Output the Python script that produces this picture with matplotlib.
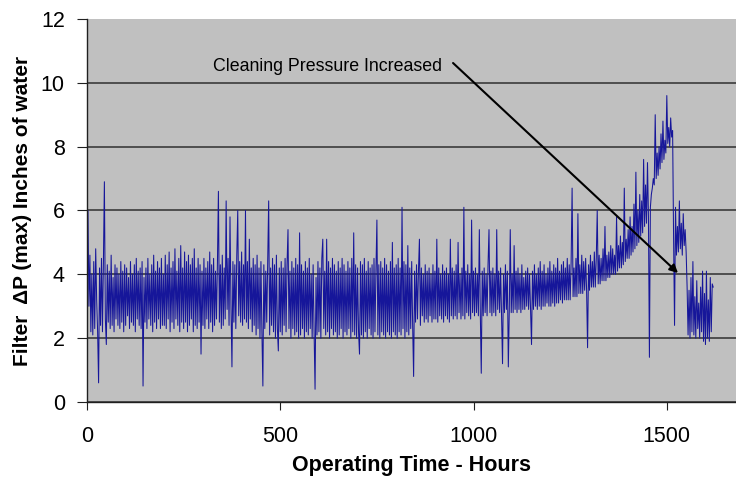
import matplotlib
matplotlib.use("Agg")
import matplotlib.pyplot as plt
import numpy as np

plt.rcParams['font.family'] = ['Liberation Sans', 'DejaVu Sans']

# filter dP (max), read every 2.5 operating hours
step_hours = 2.5
dp_max = [
    3.5, 6.0, 3.0, 4.6, 2.2, 4.0, 2.1, 4.4, 2.3, 4.8, 3.2, 2.2, 0.6, 4.2, 2.4, 4.5, 2.2, 4.4, 6.9, 2.6,
    1.8, 4.3, 2.5, 4.1, 2.3, 4.6, 2.4, 3.9, 2.2, 4.3, 2.6, 4.2, 2.4, 4.0, 2.3, 4.4, 2.5, 4.1, 2.2, 4.3,
    2.4, 4.2, 2.7, 3.9, 2.3, 4.4, 2.5, 4.0, 2.4, 4.3, 2.2, 4.5, 2.6, 4.1, 2.4, 4.2, 2.3, 4.4, 0.5, 3.9,
    2.5, 4.2, 2.3, 4.5, 2.6, 4.0, 2.4, 4.3, 2.2, 4.6, 2.5, 4.1, 2.3, 4.4, 2.6, 4.2, 2.3, 4.5, 2.4, 4.0,
    2.4, 4.6, 2.3, 4.3, 2.6, 4.7, 2.2, 4.2, 2.5, 4.4, 2.3, 4.8, 2.6, 4.1, 2.4, 4.5, 2.2, 4.9, 2.5, 4.2,
    2.3, 4.7, 2.5, 4.4, 2.2, 4.6, 2.4, 4.3, 2.6, 4.5, 2.2, 4.8, 2.4, 4.2, 2.3, 4.5, 2.5, 4.3, 1.5, 4.1,
    2.4, 4.5, 2.3, 4.2, 2.6, 4.4, 2.3, 4.7, 2.5, 4.3, 2.2, 4.5, 2.4, 4.1, 2.6, 4.4, 6.6, 2.5, 4.3, 2.3,
    4.6, 2.4, 4.2, 2.6, 6.3, 2.9, 4.5, 2.4, 5.8, 3.0, 1.1, 4.4, 2.5, 4.3, 2.3, 4.6, 6.0, 2.7, 4.4, 2.5,
    4.7, 2.4, 4.3, 2.6, 6.0, 2.5, 4.4, 2.3, 5.1, 2.6, 4.2, 2.2, 4.5, 2.4, 4.3, 2.1, 4.6, 2.3, 4.2, 2.0,
    4.4, 2.2, 0.5, 4.3, 2.3, 4.1, 2.5, 4.4, 6.3, 2.1, 4.2, 2.4, 4.5, 2.2, 4.3, 2.0, 4.6, 2.3, 1.6, 4.2,
    2.2, 4.4, 2.1, 4.2, 2.4, 4.5, 2.2, 4.3, 5.4, 2.3, 4.1, 2.0, 4.4, 2.3, 4.2, 2.1, 4.5, 2.2, 4.3, 2.0,
    5.3, 2.1, 4.3, 2.3, 4.1, 2.0, 4.4, 2.2, 4.2, 2.1, 4.5, 2.3, 4.0, 2.0, 4.3, 2.2, 0.4, 3.9, 2.1, 4.4,
    2.2, 4.2, 2.0, 4.5, 5.1, 2.3, 4.1, 2.1, 5.1, 2.2, 4.4, 2.0, 4.2, 2.3, 4.5, 2.1, 4.3, 2.2, 4.1, 2.0,
    4.4, 2.1, 4.2, 2.3, 4.5, 2.0, 4.3, 2.2, 4.1, 2.1, 4.4, 2.3, 4.2, 2.0, 4.5, 2.2, 5.3, 2.1, 4.3, 2.0,
    4.2, 2.2, 1.5, 4.4, 2.1, 4.3, 2.0, 4.5, 2.2, 4.1, 2.0, 4.4, 2.3, 4.2, 2.1, 4.3, 2.0, 4.5, 2.2, 4.1,
    5.7, 2.1, 4.3, 2.0, 4.4, 2.2, 4.2, 2.1, 4.5, 2.0, 4.3, 2.2, 4.1, 2.1, 4.4, 2.0, 5.0, 2.2, 4.2, 2.1,
    4.3, 2.0, 4.5, 2.2, 4.2, 2.1, 6.1, 2.3, 4.4, 2.0, 4.3, 2.2, 4.9, 2.1, 4.2, 2.3, 4.4, 2.4, 0.8, 4.1,
    2.5, 4.3, 2.6, 4.1, 5.1, 2.4, 4.2, 2.7, 4.0, 2.5, 4.3, 2.6, 4.1, 2.5, 4.2, 2.7, 4.0, 2.5, 4.3, 2.6,
    4.1, 2.6, 5.1, 2.5, 4.2, 2.7, 4.0, 2.6, 4.3, 2.5, 4.1, 2.7, 4.2, 2.6, 4.0, 2.5, 5.1, 2.7, 4.2, 2.6,
    4.1, 2.7, 4.3, 2.6, 5.0, 2.8, 4.0, 2.6, 4.2, 2.7, 6.1, 2.6, 4.1, 2.8, 4.3, 2.7, 4.0, 2.6, 5.7, 2.8,
    4.1, 2.7, 4.2, 2.8, 4.0, 2.7, 5.4, 2.8, 0.9, 4.1, 2.7, 4.2, 2.8, 4.0, 2.7, 4.3, 5.4, 2.8, 4.1, 2.7,
    4.2, 2.8, 4.0, 2.7, 5.4, 2.9, 4.1, 2.8, 4.2, 2.7, 1.2, 4.0, 2.8, 4.3, 2.9, 4.1, 1.1, 2.9, 5.4, 2.8,
    4.0, 2.8, 4.9, 2.9, 4.1, 2.8, 4.2, 2.9, 4.0, 2.8, 4.3, 2.9, 3.9, 2.9, 4.1, 3.0, 4.2, 2.9, 4.0, 2.9,
    1.8, 4.1, 2.9, 4.3, 3.0, 4.0, 2.9, 4.2, 3.0, 4.4, 2.9, 4.1, 3.0, 4.3, 3.0, 4.0, 3.1, 4.2, 3.0, 4.4,
    3.0, 4.1, 3.1, 4.3, 3.0, 4.2, 3.1, 4.5, 3.1, 4.1, 3.2, 4.3, 3.1, 4.4, 3.2, 4.2, 3.2, 4.5, 3.2, 4.3,
    3.2, 4.4, 6.7, 3.3, 4.2, 3.3, 4.5, 3.3, 5.9, 3.4, 4.3, 3.4, 4.6, 3.4, 4.4, 3.5, 4.5, 3.5, 1.7, 4.3,
    3.5, 4.6, 3.6, 4.4, 3.6, 4.7, 3.6, 4.5, 6.0, 3.7, 4.6, 3.7, 4.5, 3.8, 4.8, 3.8, 5.5, 3.8, 4.6, 3.9,
    4.7, 3.9, 4.9, 4.0, 4.8, 4.0, 4.6, 4.0, 5.8, 4.1, 4.9, 4.2, 5.2, 4.2, 5.0, 4.3, 6.7, 4.4, 5.1, 4.5,
    5.4, 4.5, 5.8, 4.6, 5.5, 4.7, 6.2, 4.8, 7.2, 4.9, 6.0, 5.0, 6.5, 5.2, 6.3, 5.3, 7.6, 5.5, 6.8, 5.6,
    7.5, 5.8, 1.4, 6.1, 6.5, 6.7, 7.0, 6.8, 9.0, 7.0, 7.8, 7.1, 8.0, 7.3, 8.4, 7.5, 8.8, 7.6, 8.2, 7.8,
    9.6, 8.1, 8.6, 8.0, 8.9, 8.3, 8.5, 5.2, 2.4, 6.1, 4.6, 5.5, 4.7, 6.3, 4.8, 5.6, 4.6, 5.9, 4.9, 5.4,
    4.7, 3.6, 2.1, 3.5, 2.0, 3.9, 2.2, 4.4, 2.1, 3.3, 2.0, 3.8, 2.3, 3.1, 2.0, 3.6, 2.2, 4.1, 1.9, 3.4,
    1.8, 4.1, 2.0, 3.2, 1.9, 3.9, 2.2, 3.7, 3.6,
]
hours = np.arange(len(dp_max)) * step_hours

y_ticks = [0, 2, 4, 6, 8, 10, 12]
x_ticks = [0, 500, 1000, 1500]
note = "Cleaning Pressure Increased"

fig = plt.figure(figsize=(7.36, 4.8), dpi=100)
ax = fig.add_axes([0.1182, 0.1625, 0.8818, 0.798])
ax.set_facecolor('#c0c0c0')

ax.plot(hours, dp_max, color='#16169a', linewidth=0.75)

ax.set_xlim(0, 1679)
ax.set_ylim(0, 12)
ax.set_yticks(y_ticks)
ax.set_xticks(x_ticks)
ax.yaxis.grid(True, color='#303030', linewidth=1.1)
ax.yaxis.get_gridlines()[-1].set_visible(False)
ax.set_axisbelow(True)

for s in ['top', 'right']:
    ax.spines[s].set_visible(False)
for s in ['left', 'bottom']:
    ax.spines[s].set_color('#202020')
    ax.spines[s].set_linewidth(1.0)

ax.tick_params(axis='y', length=7, pad=9, labelsize=15.5, color='#202020')
ax.tick_params(axis='x', length=6, pad=11, labelsize=15.5, color='#202020')

ax.set_xlabel('Operating Time - Hours', fontsize=15.5, fontweight='bold', labelpad=6)
ax.set_ylabel('Filter  \u0394P (max) Inches of water', fontsize=15, fontweight='bold', labelpad=6)

# annotation: text and arrow drawn separately
ax.text(326, 10.5, note, fontsize=12.8, va='center', ha='left')
ax.annotate('', xy=(1529, 4.04), xytext=(947, 10.62),
            arrowprops=dict(arrowstyle='-|>', color='black', lw=1.5,
                            mutation_scale=12, shrinkA=0, shrinkB=0))

fig.savefig('out.png', dpi=100)
